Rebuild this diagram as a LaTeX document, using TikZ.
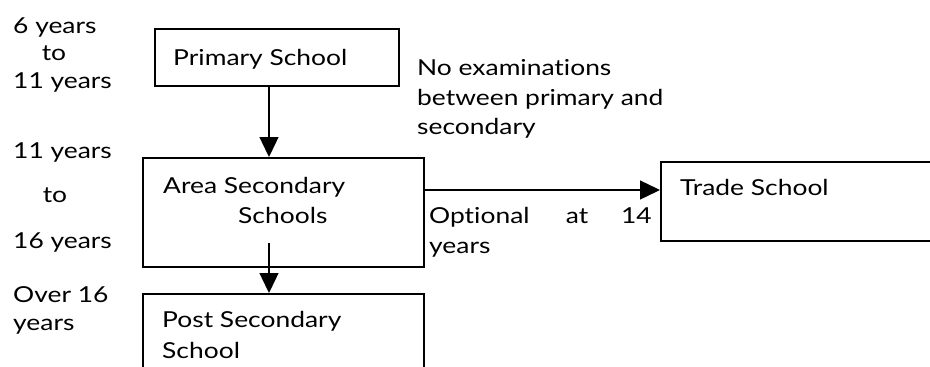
\documentclass[tikz,border=0pt]{standalone}
\usepackage{fontspec}
\setmainfont{Lato}[FakeStretch=1.2, Ligatures={NoCommon}]
\usetikzlibrary{arrows.meta}
\tikzset{
  box/.style={draw, line width=1.6pt, minimum width=#1, inner sep=0pt},
  lbl/.style={anchor=base west, inner sep=0pt, font=\fontsize{22}{27}\selectfont},
  lblc/.style={anchor=base, inner sep=0pt, font=\fontsize{22}{27}\selectfont},
  lble/.style={anchor=base east, inner sep=0pt, font=\fontsize{22}{27}\selectfont},
  arr/.style={line width=1.4pt, -{Triangle[length=20pt,width=19pt]}}
}
\begin{document}
\begin{tikzpicture}[x=1pt,y=-1pt]
\useasboundingbox (0,0) rectangle (930,367);
% boxes
\node[box=244pt, minimum height=57pt, anchor=north west] (prim) at (154,28) {};
\node[box=281pt, minimum height=109pt, anchor=north west] (area) at (142,157) {};
\node[box=281pt, minimum height=120pt, anchor=north west] (post) at (142,293) {};
\node[box=340pt, minimum height=79pt, anchor=north west] (trade) at (660,161) {};
% box texts
\node[lbl] (tprim) at (173,65) {Primary School};
\node[lbl] (tarea1) at (163,193) {Area Secondary};
\node[lbl] (tarea2) at (238,223) {Schools};
\node[lbl] (tpost1) at (162,327) {Post Secondary};
\node[lbl] (tpost2) at (162,358) {School};
\node[lbl] (ttrade) at (680,195) {Trade School};
% age labels
\node[lbl] (a1) at (13,33) {6 years};
\node[lblc] (a2) at (54,60) {to};
\node[lbl] (a3) at (13,88) {11 years};
\node[lbl] (b1) at (13,158) {11 years};
\node[lblc] (b2) at (55,202) {to};
\node[lbl] (b3) at (13,248) {16 years};
\node[lbl] (c1) at (13,302) {Over 16};
\node[lbl] (c2) at (13,330) {years};
% notes
\node[lbl] (n1) at (417,75) {No examinations};
\node[lbl] (n2) at (417,105) {between primary and};
\node[lbl] (n3) at (417,134) {secondary};
\node[lbl] (o1) at (429,223) {Optional};
\node[lblc] (o2) at (577,223) {at};
\node[lble] (o3) at (652,223) {14};
\node[lbl] (o4) at (429,253) {years};
% connectors
\coordinate (ax) at (269,0);
\coordinate (s2) at (269,243);
\coordinate (hy) at (0,190);
\draw[arr] (ax |- prim.south) -- (ax |- area.north);
\draw[arr] (s2) -- (s2 |- post.north);
\draw[arr] (area.east |- hy) -- (trade.west |- hy);
\end{tikzpicture}
\end{document}
